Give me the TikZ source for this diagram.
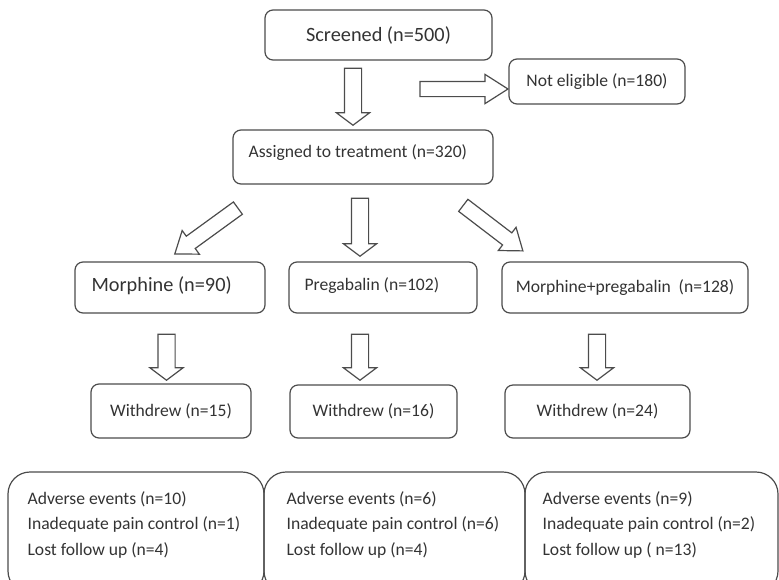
\documentclass[tikz,border=0pt]{standalone}
\usepackage{fontspec}
\setmainfont{Carlito}
\usetikzlibrary{shapes.arrows,positioning}

\tikzset{
  stage/.style={draw=black!70,line width=1.2pt,rounded corners=8pt,inner sep=0pt,text=black!80,font=\fontsize{17.6}{21}\selectfont},
  reason/.style={stage,rounded corners=22pt},
  lbl/.style={inner sep=0pt,text=black!80,font=\fontsize{17.6}{21}\selectfont},
  bigfont/.style={font=\fontsize{20.3}{24}\selectfont},
  blockarrow/.style={single arrow,draw=black!70,line width=1.2pt,inner xsep=0pt,single arrow head indent=0pt},
  downarrow/.style={blockarrow,inner ysep=8pt,single arrow head extend=8pt,single arrow tip angle=106,rotate=-90},
  slantarrow/.style={blockarrow,inner ysep=7pt,single arrow head extend=7pt,single arrow tip angle=73}
}

\begin{document}
\begin{tikzpicture}[x=1pt,y=-1pt]
	\useasboundingbox (0,0) rectangle (779,579);
	\clip (0,0) rectangle (779,579);

	%screening
	\node[stage,bigfont,minimum width=227pt,minimum height=50pt] (screened) at (378.5,35) {Screened (n=500)};
	\node[stage,minimum width=176pt,minimum height=45pt] (noteligible) at (597,81.5) {Not eligible (n=180)};
	\node[stage,minimum width=260pt,minimum height=54pt] (assigned) at (363,157) {};
	\node[lbl,right=16pt of assigned.west,yshift=4pt] (assignedtxt) {Assigned to treatment (n=320)};

	%treatment groups
	\node[stage,minimum width=190pt,minimum height=51pt] (morph) at (170,287.5) {};
	\node[lbl,bigfont,right=17pt of morph.west,yshift=2pt] (morphtxt) {Morphine (n=90)};
	\node[stage,minimum width=188pt,minimum height=51pt] (preg) at (383,287.5) {};
	\node[lbl,right=16pt of preg.west,yshift=2pt] (pregtxt) {Pregabalin (n=102)};
	\node[stage,minimum width=246pt,minimum height=51pt] (combo) at (625,287.5) {Morphine+pregabalin\ \ (n=128)};

	%withdrawals
	\node[stage,minimum width=160pt,minimum height=54pt] (withdrawA) at (171,411) {Withdrew (n=15)};
	\node[stage,minimum width=167pt,minimum height=53pt] (withdrawB) at (373.5,411.5) {Withdrew (n=16)};
	\node[stage,minimum width=185pt,minimum height=53pt] (withdrawC) at (597.5,411.5) {Withdrew (n=24)};

	%reasons
	\node[reason,minimum width=256pt,minimum height=121pt] (lossA) at (136,532.5) {};
	\node[reason,minimum width=261pt,minimum height=121pt] (lossB) at (394.5,532.5) {};
	\node[reason,minimum width=253pt,minimum height=121pt] (lossC) at (651.5,532.5) {};
	\node[lbl,align=left,font=\fontsize{17.6}{25.5}\selectfont,right=20pt of lossA.west,yshift=8pt] (lossAtxt)
	  {Adverse events (n=10)\\Inadequate pain control (n=1)\\Lost follow up (n=4)};
	\node[lbl,align=left,font=\fontsize{17.6}{25.5}\selectfont,right=23pt of lossB.west,yshift=8pt] (lossBtxt)
	  {Adverse events (n=6)\\Inadequate pain control (n=6)\\Lost follow up (n=4)};
	\node[lbl,align=left,font=\fontsize{17.6}{25.5}\selectfont,right=18pt of lossC.west,yshift=8pt] (lossCtxt)
	  {Adverse events (n=9)\\Inadequate pain control (n=2)\\Lost follow up ( n=13)};

	%block arrows
	\node[downarrow,minimum height=57pt] (arrscreen) at (353,93.5) {};
	\node[blockarrow,inner ysep=7pt,single arrow head extend=7pt,single arrow tip angle=65,minimum height=88pt] (arrexcl) at (458,89) {};
	\node[slantarrow,minimum height=78pt,rotate=216] (arrmorph) at (210.5,228) {};
	\node[downarrow,minimum height=58pt] (arrpreg) at (360,224) {};
	\node[slantarrow,minimum height=75pt,rotate=-37.4] (arrcombo) at (489,225) {};
	\node[downarrow,minimum height=46pt] (arrwA) at (166.5,354) {};
	\node[downarrow,minimum height=46pt] (arrwB) at (360,354) {};
	\node[downarrow,minimum height=46pt] (arrwC) at (597,354) {};
\end{tikzpicture}
\end{document}
